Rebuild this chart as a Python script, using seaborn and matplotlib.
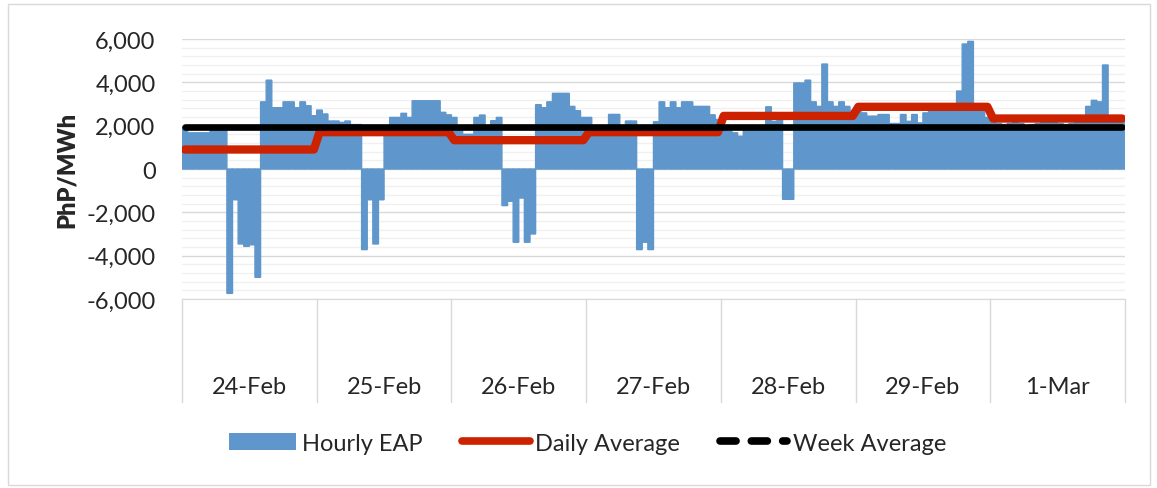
import numpy as np
import pandas as pd
import seaborn as sns
import matplotlib.pyplot as plt
from matplotlib.lines import Line2D
from matplotlib.patches import Patch, Rectangle
from matplotlib.ticker import FuncFormatter, MultipleLocator


days = ['24-Feb', '25-Feb', '26-Feb', '27-Feb', '28-Feb', '29-Feb', '1-Mar']

# hourly EAP, PhP/MWh (24 values per day)
eap_24feb = [1900, 1670, 1670, 1670, 1670, 1900, 1900, 1900, -5740, -1420, -3460, -3570,
             -3500, -5000, 3100, 4100, 2830, 2830, 3100, 3100, 2830, 3100, 2920, 2460]
eap_25feb = [2720, 2540, 2215, 2215, 2150, 2215, 2050, 2050, -3720, -1420, -3460, -1420,
             1900, 2380, 2380, 2570, 2380, 3150, 3150, 3150, 3150, 3150, 2615, 2500]
eap_26feb = [2380, 1800, 1600, 1600, 2380, 2490, 1900, 2230, 2380, -1690, -1490, -3380,
             -1340, -3380, -3000, 2970, 2830, 3100, 3490, 3490, 3490, 2890, 2690, 2380]
eap_27feb = [2380, 1950, 1950, 1950, 2520, 2520, 1950, 2215, 2215, -3720, -3380, -3720,
             2180, 3100, 2830, 3100, 2830, 3100, 3100, 2890, 2890, 2890, 2500, 2285]
eap_28feb = [1900, 1750, 1670, 1515, 1950, 1950, 1950, 1950, 2870, 2200, 2350, -1400,
             -1400, 3970, 3970, 4100, 3100, 2890, 4845, 3100, 2890, 3100, 2890, 2700]
eap_29feb = [2700, 2590, 2440, 2440, 2515, 2515, 2100, 2100, 2515, 2200, 2515, 2130,
             2590, 2900, 2900, 2900, 2900, 2900, 3600, 5770, 5890, 2900, 2900, 2380]
eap_1mar = [2150, 2100, 2050, 2100, 2150, 2100, 2000, 2050, 2100, 2150, 2200, 2150,
            2100, 2050, 2100, 2150, 2200, 2890, 3170, 3100, 4800, 2300, 2300, 2250]

daily_avg = [900, 1700, 1330, 1700, 2450, 2870, 2330]
week_avg = 1920

blue = '#5F97CC'
red = '#CC2200'
grid_major = '#d9d9d9'
grid_minor = '#f0f0f0'

hourly = (eap_24feb + eap_25feb + eap_26feb + eap_27feb
          + eap_28feb + eap_29feb + eap_1mar)
df = pd.DataFrame({'hour': np.arange(len(hourly)), 'eap': hourly})
df['daily'] = np.repeat(daily_avg, 24)
df['week'] = week_avg

sns.set_style('white')
plt.rcParams['font.family'] = ['Lato', 'DejaVu Sans']

fig = plt.figure(figsize=(11.57, 4.89), dpi=100)
ax = fig.add_axes([0.1573, 0.3865, 0.8150, 0.5317])

sns.barplot(data=df, x='hour', y='eap', width=1, color=blue, saturation=1,
            errorbar=None, linewidth=1.0, edgecolor=blue, ax=ax)
for bar in ax.patches:
    bar.set_snap(False)
sns.lineplot(data=df, x='hour', y='daily', color=red, lw=6, solid_capstyle='round',
             solid_joinstyle='round', legend=False, ax=ax)
sns.lineplot(data=df, x='hour', y='week', color='black', lw=4.8, solid_capstyle='round',
             legend=False, ax=ax)

ax.set_xlim(-0.5, len(hourly) - 0.5)
ax.set_ylim(-6000, 6000)
ax.yaxis.set_major_locator(MultipleLocator(2000))
ax.yaxis.set_minor_locator(MultipleLocator(400))
ax.yaxis.set_major_formatter(FuncFormatter(lambda v, p: '{:,.0f}'.format(v)))
ax.grid(which='minor', axis='y', color=grid_minor, lw=1)
ax.grid(which='major', axis='y', color=grid_major, lw=1)
ax.set_axisbelow(True)
ax.set_xticks([])
ax.set_xlabel('')
ax.tick_params(axis='y', which='both', length=0, pad=19, labelsize=17)
for s in ['top', 'right', 'left']:
    ax.spines[s].set_visible(False)
ax.spines['bottom'].set_color(grid_major)

ax.set_ylabel('PhP/MWh', fontsize=17, fontweight='heavy')
ax.yaxis.set_label_coords(-0.11, 0.5)

# category box under the plot
trans = ax.get_xaxis_transform()
for k in range(len(days) + 1):
    ax.plot([24 * k - 0.5] * 2, [0, -0.396], transform=trans, color=grid_major,
            lw=1, clip_on=False)
for i, d in enumerate(days):
    ax.text(24 * i + 11.5, -0.338, d, transform=trans, ha='center', va='center',
            fontsize=17)

handles = [Patch(facecolor=blue, edgecolor='none'),
           Line2D([], [], color=red, lw=5.5, solid_capstyle='round'),
           Line2D([], [], color='black', lw=5.5, linestyle=(0, (2.1, 2.0)),
                  dash_capstyle='round')]
fig.legend(handles, ['Hourly EAP', 'Daily Average', 'Week Average'], loc='center',
           bbox_to_anchor=(0.508, 0.092), ncol=3, frameon=False, fontsize=17,
           handlelength=2.84, handletextpad=0.25, columnspacing=1.7)

fig.patches.append(Rectangle((8 / 1157, 1 - 486 / 489), 1142 / 1157, 481 / 489,
                             transform=fig.transFigure, fill=False,
                             edgecolor=grid_major, lw=1))

fig.savefig('out.png', dpi=100)
